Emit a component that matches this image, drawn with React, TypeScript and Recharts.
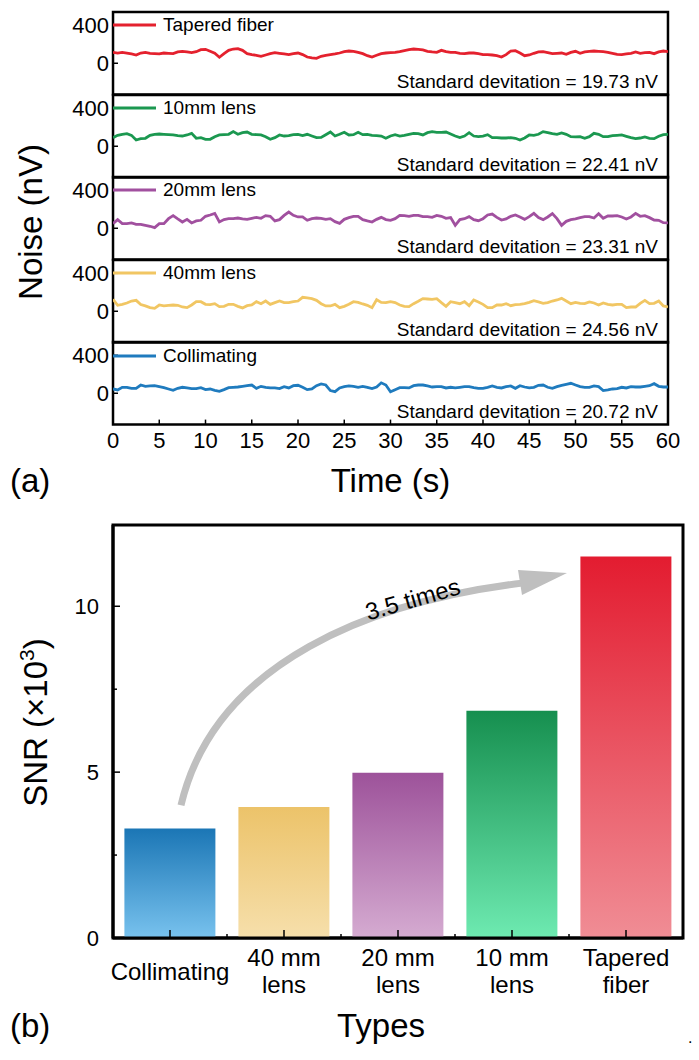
import { LineChart, Line, XAxis, YAxis, ReferenceArea, Legend, BarChart, Bar, Cell, ReferenceLine, Label } from 'recharts';

const FONT = '"Liberation Sans", Arial, Helvetica, sans-serif';

// ---- (a) noise traces, one sample every 0.5 s ----
const STEP_S = 0.5;
const TIME_TICKS = [0, 5, 10, 15, 20, 25, 30, 35, 40, 45, 50, 55, 60];
const NOISE_TICKS = [0, 400];
const NOISE_DOMAIN: [number, number] = [-330, 540];

const TAPERED = [
  115, 108, 115, 108, 98, 87, 108, 115, 105, 101,
  98, 108, 105, 101, 119, 126, 119, 112, 122, 143,
  147, 126, 105, 63, 101, 136, 150, 154, 136, 101,
  91, 84, 73, 87, 101, 112, 105, 98, 91, 101,
  108, 91, 66, 56, 52, 73, 84, 91, 98, 108,
  122, 129, 126, 115, 101, 80, 66, 84, 101, 108,
  112, 115, 122, 133, 143, 150, 147, 140, 126, 119,
  115, 136, 122, 115, 115, 105, 101, 108, 108, 101,
  91, 91, 87, 80, 66, 91, 129, 133, 108, 80,
  87, 105, 119, 122, 112, 101, 105, 108, 94, 115,
  126, 105, 119, 126, 129, 126, 122, 115, 105, 94,
  91, 98, 105, 119, 105, 112, 115, 101, 119, 129,
  122,
];
const LENS10 = [
  91, 115, 126, 133, 115, 66, 80, 84, 115, 126,
  129, 126, 122, 119, 112, 108, 119, 136, 84, 91,
  73, 73, 101, 119, 122, 126, 154, 126, 143, 150,
  126, 122, 119, 101, 73, 91, 119, 108, 112, 122,
  126, 112, 126, 108, 91, 94, 122, 150, 108, 126,
  147, 119, 122, 147, 122, 126, 115, 112, 108, 84,
  108, 122, 108, 115, 126, 136, 133, 119, 143, 154,
  147, 147, 150, 129, 108, 91, 108, 143, 108, 101,
  108, 122, 91, 91, 87, 87, 91, 84, 66, 87,
  119, 115, 126, 154, 143, 133, 126, 140, 126, 101,
  98, 101, 84, 101, 136, 126, 101, 101, 112, 115,
  119, 105, 91, 80, 87, 98, 84, 80, 105, 122,
  126,
];
const LENS20 = [
  49, 91, 49, 49, 56, 42, 42, 31, 21, 7,
  49, 49, 101, 133, 98, 66, 94, 56, 77, 84,
  126, 140, 157, 66, 91, 101, 101, 108, 98, 94,
  105, 115, 105, 133, 126, 77, 91, 136, 171, 136,
  119, 119, 84, 101, 108, 105, 94, 101, 70, 52,
  94, 112, 126, 126, 91, 77, 66, 94, 115, 91,
  84, 101, 136, 133, 126, 136, 136, 122, 122, 115,
  136, 126, 105, 112, 31, 91, 101, 122, 91, 80,
  101, 140, 150, 115, 87, 98, 126, 140, 119, 94,
  122, 157, 112, 91, 119, 154, 101, 31, 73, 91,
  98, 112, 122, 122, 108, 154, 105, 129, 129, 133,
  119, 98, 119, 157, 126, 133, 112, 87, 84, 59,
  56,
];
const LENS40 = [
  126, 63, 73, 87, 108, 115, 70, 56, 38, 31,
  66, 56, 63, 66, 63, 45, 38, 66, 101, 101,
  73, 70, 80, 49, 52, 73, 73, 52, 35, 59,
  66, 101, 80, 108, 73, 91, 108, 91, 91, 101,
  108, 147, 140, 133, 115, 80, 56, 56, 73, 38,
  52, 73, 101, 94, 77, 63, 38, 122, 94, 91,
  101, 91, 66, 52, 49, 80, 105, 133, 129, 126,
  133, 91, 52, 101, 91, 80, 101, 59, 119, 98,
  73, 38, 38, 66, 66, 80, 59, 70, 73, 80,
  94, 112, 98, 84, 91, 108, 119, 136, 108, 80,
  94, 84, 80, 98, 87, 66, 87, 73, 66, 73,
  73, 38, 45, 45, 84, 115, 80, 84, 108, 56,
  45,
];
const COLLIMATING = [
  45, 35, 63, 63, 52, 52, 87, 73, 77, 80,
  70, 59, 45, 31, 52, 63, 56, 49, 49, 59,
  38, 45, 31, 21, 38, 59, 63, 66, 73, 80,
  87, 52, 73, 63, 56, 56, 49, 70, 56, 80,
  84, 63, 38, 45, 80, 98, 87, 28, 17, 56,
  70, 77, 73, 63, 73, 63, 49, 66, 110, 87,
  15, 38, 59, 59, 56, 80, 87, 87, 77, 66,
  70, 70, 56, 63, 56, 63, 70, 70, 59, 52,
  52, 63, 77, 63, 56, 70, 77, 52, 80, 66,
  56, 63, 84, 87, 63, 52, 70, 84, 94, 105,
  87, 70, 63, 63, 77, 70, 28, 35, 45, 49,
  63, 56, 70, 66, 66, 73, 80, 101, 73, 66,
  66,
];

const NOISE_KEYS = ['tapered', 'lens10', 'lens20', 'lens40', 'collimating'];
const NOISE_NAMES = ['Tapered fiber', '10mm lens', '20mm lens', '40mm lens', 'Collimating'];
const NOISE_STD = [19.73, 22.41, 23.31, 24.56, 20.72];
const NOISE_COLORS = ['#e4212e', '#1b9850', '#a1509f', '#f1c663', '#1f7bbe'];

const noiseRows = TAPERED.map((v, i) => ({
  t: i * STEP_S,
  tapered: v,
  lens10: LENS10[i],
  lens20: LENS20[i],
  lens40: LENS40[i],
  collimating: COLLIMATING[i],
}));

// ---- (b) SNR bars ----
const SNR_TYPES = ['Collimating', '40 mm lens', '20 mm lens', '10 mm lens', 'Tapered fiber'];
const SNR_TYPE_LINES = [['Collimating'], ['40 mm', 'lens'], ['20 mm', 'lens'], ['10 mm', 'lens'], ['Tapered', 'fiber']];
const SNR_VALUES = [3.3, 3.95, 4.98, 6.85, 11.5];
const SNR_TICKS = [0, 2.5, 5, 7.5, 10];
const SNR_MAX = 12.45;
const SNR_GRADIENTS = [
  ['#1b76b5', '#78c2ee'],
  ['#ecc36a', '#f6dfab'],
  ['#9d529a', '#d5abd1'],
  ['#168f4f', '#6eeab1'],
  ['#e31c30', '#f08d95'],
];

const snrRows = SNR_TYPES.map((name, i) => ({ name, snr: SNR_VALUES[i] }));

// layout
const W = 699;
const PANEL_TOP = 12;
const PANEL_H = 82.6;
const PAD = 3;
const PLOT_LEFT = 113;
const PLOT_RIGHT = 668;
const BAR_RIGHT = 683;
const BAR_BAND = (BAR_RIGHT - PLOT_LEFT) / SNR_TYPES.length;

const makeTimeTick = (showLabel: boolean) => (props: any) => {
  const { x, y, payload } = props;
  return (
    <g>
      <line x1={x} x2={x} y1={y} y2={y - 5} stroke="#000" strokeWidth={1.5} />
      {showLabel && (
        <text x={x} y={y + 23} textAnchor="middle" fontSize={22} fontFamily={FONT} fill="#000">
          {payload.value}
        </text>
      )}
    </g>
  );
};

const NoiseYTick = (props: any) => {
  const { x, y, payload } = props;
  return (
    <g>
      <line x1={x} x2={x + 5} y1={y} y2={y} stroke="#000" strokeWidth={1.5} />
      <text x={x - 4} y={y} dy="0.36em" textAnchor="end" fontSize={22} fontFamily={FONT} fill="#000">
        {payload.value}
      </text>
    </g>
  );
};

function NoisePanel({ index }: { index: number }) {
  const isLast = index === NOISE_KEYS.length - 1;
  const axisH = isLast ? 80 : 0;
  const bottom = isLast ? 0 : PAD;
  const height = PANEL_H + PAD + bottom + axisH;
  const color = NOISE_COLORS[index];

  return (
    <div style={{ position: 'absolute', left: 0, top: PANEL_TOP + index * PANEL_H - PAD }}>
      <LineChart
        width={W}
        height={height}
        data={noiseRows}
        margin={{ top: PAD, right: W - PLOT_RIGHT, bottom, left: 0 }}
      >
        <XAxis
          type="number"
          dataKey="t"
          domain={[0, 60]}
          ticks={TIME_TICKS}
          interval={0}
          allowDataOverflow
          axisLine={false}
          tickLine={false}
          tickSize={0}
          tickMargin={0}
          height={axisH}
          tick={makeTimeTick(isLast)}
        >
          {isLast && (
            <Label
              content={(p: any) => {
                const vb = p.viewBox;
                return (
                  <text x={vb.x + vb.width / 2} y={vb.y + 67} textAnchor="middle" fontSize={33} fontFamily={FONT} fill="#000">
                    Time (s)
                  </text>
                );
              }}
            />
          )}
        </XAxis>
        <YAxis
          domain={NOISE_DOMAIN}
          ticks={NOISE_TICKS}
          interval={0}
          allowDataOverflow
          width={PLOT_LEFT}
          axisLine={false}
          tickLine={false}
          tickSize={0}
          tickMargin={0}
          tick={NoiseYTick}
        />
        <Line
          type="linear"
          dataKey={NOISE_KEYS[index]}
          name={NOISE_NAMES[index]}
          stroke={color}
          strokeWidth={2.8}
          dot={false}
          isAnimationActive={false}
        />
        <ReferenceArea
          x1={0}
          x2={60}
          y1={NOISE_DOMAIN[0]}
          y2={NOISE_DOMAIN[1]}
          fill="none"
          fillOpacity={0}
          stroke="#000"
          strokeWidth={2.5}
          label={(p: any) => {
            const vb = p.viewBox;
            return (
              <text x={vb.x + vb.width - 10} y={vb.y + vb.height - 7} textAnchor="end" fontSize={19} fontFamily={FONT} fill="#000">
                {`Standard devitation = ${NOISE_STD[index].toFixed(2)} nV`}
              </text>
            );
          }}
        />
        <Legend
          layout="horizontal"
          align="center"
          verticalAlign="middle"
          wrapperStyle={{ left: PLOT_LEFT, top: PAD + 13.3 - 11, width: 'auto' }}
          content={(p: any) => (
            <div style={{ display: 'flex', flexDirection: 'column' }}>
              {(p.payload || []).map((item: any) => (
                <div key={item.value} style={{ display: 'flex', alignItems: 'center', height: 22 }}>
                  <svg width={43} height={6}>
                    <line x1={0} y1={3} x2={43} y2={3} stroke={item.color} strokeWidth={3} />
                  </svg>
                  <span style={{ marginLeft: 7, fontSize: 19, fontFamily: FONT, color: '#000', whiteSpace: 'nowrap' }}>
                    {item.value}
                  </span>
                </div>
              ))}
            </div>
          )}
        />
      </LineChart>
    </div>
  );
}

const TypeTick = (props: any) => {
  const { x, y, index } = props;
  const lines = SNR_TYPE_LINES[index] || [];
  const isLastCat = index === SNR_TYPES.length - 1;
  return (
    <g>
      <line x1={x} x2={x} y1={y} y2={y - 8} stroke="#000" strokeWidth={1.5} />
      {!isLastCat && (
        <line x1={x + BAR_BAND / 2} x2={x + BAR_BAND / 2} y1={y} y2={y - 4} stroke="#000" strokeWidth={1.5} />
      )}
      {lines.length === 1 ? (
        <text x={x} y={y + 42} textAnchor="middle" fontSize={24} fontFamily={FONT} fill="#000">
          {lines[0]}
        </text>
      ) : (
        lines.map((ln: string, k: number) => (
          <text key={k} x={x} y={y + 28 + k * 27} textAnchor="middle" fontSize={24} fontFamily={FONT} fill="#000">
            {ln}
          </text>
        ))
      )}
    </g>
  );
};

const SnrYTick = (props: any) => {
  const { x, y, payload } = props;
  const major = payload.value % 5 === 0;
  return (
    <g>
      <line x1={x} x2={x + (major ? 7 : 4)} y1={y} y2={y} stroke="#000" strokeWidth={1.5} />
      {major && (
        <text x={x - 14} y={y} dy="0.36em" textAnchor="end" fontSize={22} fontFamily={FONT} fill="#000">
          {payload.value}
        </text>
      )}
    </g>
  );
};

// curved "3.5 times" arrow, anchored on Collimating (start) and Tapered fiber (end)
const GrowthArrow = (props: any) => {
  const { x1, y1, x2, y2 } = props;
  if ([x1, y1, x2, y2].some((v) => typeof v !== 'number' || Number.isNaN(v))) return null;
  const sx = x1 + 11;
  const sy = y1;
  const tx = x2 - 59;
  const ty = y2;
  const d = `M ${sx} ${sy} C ${sx + 34} ${sy - 145}, ${tx - 192} ${ty + 28}, ${tx - 45} ${ty + 10}`;
  const head = `${tx},${ty} ${tx - 49},${ty - 3} ${tx - 45},${ty + 22}`;
  const lx = tx - 152;
  const ly = ty + 34;
  return (
    <g>
      <path d={d} fill="none" stroke="#bfbfbf" strokeWidth={7} />
      <polygon points={head} fill="#bfbfbf" />
      <text x={lx} y={ly} transform={`rotate(-16 ${lx} ${ly})`} textAnchor="middle" fontSize={24} fontFamily={FONT} fill="#000">
        3.5 times
      </text>
    </g>
  );
};

function SnrChart() {
  const axisLine = { stroke: '#000', strokeWidth: 3 };
  return (
    <div style={{ position: 'absolute', left: 0, top: 500 }}>
      <BarChart
        width={W}
        height={560}
        data={snrRows}
        margin={{ top: 25, right: W - BAR_RIGHT, bottom: 12, left: 0 }}
        barCategoryGap="10%"
      >
        <defs>
          {SNR_GRADIENTS.map(([top, bottom], i) => (
            <linearGradient key={i} id={`snrGrad${i}`} x1="0" y1="0" x2="0" y2="1">
              <stop offset="0%" stopColor={top} />
              <stop offset="100%" stopColor={bottom} />
            </linearGradient>
          ))}
        </defs>
        <XAxis
          dataKey="name"
          interval={0}
          height={110}
          axisLine={axisLine}
          tickLine={false}
          tickSize={0}
          tickMargin={0}
          tick={TypeTick}
        >
          <Label
            content={(p: any) => {
              const vb = p.viewBox;
              return (
                <text x={vb.x + vb.width / 2 - 17} y={vb.y + 99} textAnchor="middle" fontSize={33} fontFamily={FONT} fill="#000">
                  Types
                </text>
              );
            }}
          />
        </XAxis>
        <YAxis
          domain={[0, SNR_MAX]}
          ticks={SNR_TICKS}
          interval={0}
          allowDataOverflow
          width={PLOT_LEFT}
          axisLine={axisLine}
          tickLine={false}
          tickSize={0}
          tickMargin={0}
          tick={SnrYTick}
        >
          <Label
            content={(p: any) => {
              const vb = p.viewBox;
              const cx = 47;
              const cy = vb.y + vb.height / 2 - 9;
              return (
                <text x={cx} y={cy} transform={`rotate(-90 ${cx} ${cy})`} textAnchor="middle" fontSize={33} fontFamily={FONT} fill="#000">
                  SNR (×10
                  <tspan dy={-13} fontSize={21}>3</tspan>
                  <tspan dy={13}>)</tspan>
                </text>
              );
            }}
          />
        </YAxis>
        <Bar dataKey="snr" isAnimationActive={false}>
          {snrRows.map((r, i) => (
            <Cell key={r.name} fill={`url(#snrGrad${i})`} />
          ))}
        </Bar>
        {/* full frame around the plot area */}
        <ReferenceArea y1={0} y2={SNR_MAX} fill="none" fillOpacity={0} stroke="#000" strokeWidth={3} />
        <ReferenceLine
          segment={[
            { x: SNR_TYPES[0], y: 4.0 },
            { x: SNR_TYPES[SNR_TYPES.length - 1], y: 11.0 },
          ]}
          shape={GrowthArrow}
        />
      </BarChart>
    </div>
  );
}

const tagStyle: React.CSSProperties = {
  position: 'absolute',
  left: 10,
  fontSize: 33,
  lineHeight: 1,
  fontFamily: FONT,
  color: '#000',
};

export default function App() {
  return (
    <div style={{ position: 'absolute', left: 0, top: 0, width: W, height: 1060, background: '#fff', overflow: 'hidden' }}>
      {NOISE_KEYS.map((k, i) => (
        <NoisePanel key={k} index={i} />
      ))}
      <div style={{ position: 'absolute', left: 30, top: 222, width: 0, height: 0 }}>
        <div
          style={{
            position: 'absolute',
            left: 0,
            top: 0,
            transform: 'translate(-50%, -50%) rotate(-90deg)',
            fontSize: 33,
            lineHeight: 1,
            fontFamily: FONT,
            color: '#000',
            whiteSpace: 'nowrap',
          }}
        >
          Noise (nV)
        </div>
      </div>
      <div style={{ ...tagStyle, top: 464 }}>(a)</div>
      <SnrChart />
      <div style={{ ...tagStyle, top: 1009 }}>(b)</div>
      <div style={{ ...tagStyle, left: 688, top: 1030, fontSize: 16 }}>.</div>
    </div>
  );
}
